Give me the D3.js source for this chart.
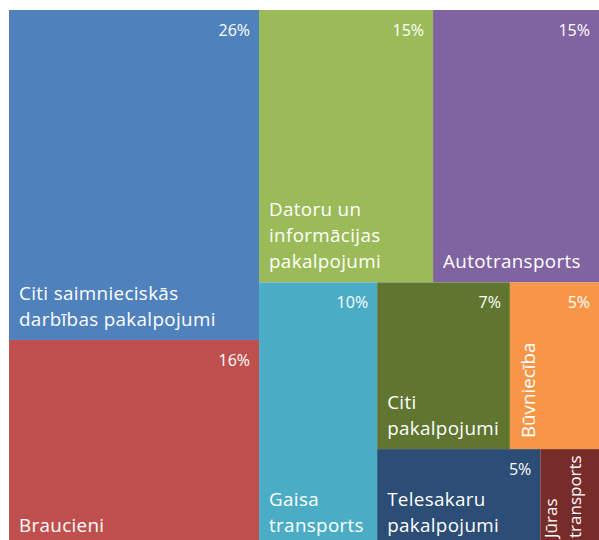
<!DOCTYPE html>
<html>
<head>
<meta charset="utf-8">
<script src="https://cdn.jsdelivr.net/npm/d3@7"></script>
<style>
  html, body { margin: 0; padding: 0; background: #ffffff; overflow: hidden; }
  svg { display: block; }
</style>
</head>
<body>
<svg id="chart" width="599" height="540"></svg>
<script>
// ---- Data ----
const categories = [
  "Citi saimnieciskās\ndarbības pakalpojumi",
  "Braucieni",
  "Datoru un\ninformācijas\npakalpojumi",
  "Autotransports",
  "Gaisa\ntransports",
  "Citi\npakalpojumi",
  "Būvniecība",
  "Telesakaru\npakalpojumi",
  "Jūras\ntransports"
];
// estimated shares (% of total), read from the rectangle areas
const values = [26.1, 16.3, 15.0, 14.3, 9.85, 7.0, 4.7, 5.0, 1.8];
// percentage labels printed on the chart
const percentLabels = ["26%", "16%", "15%", "15%", "10%", "7%", "5%", "5%", ""];
// grouping path for each category inside the nested treemap
const groupPaths = [
  ["A"], ["A"],
  ["B", "top"], ["B", "top"],
  ["B", "bottom"],
  ["B", "bottom", "C", "row1"], ["B", "bottom", "C", "row1"],
  ["B", "bottom", "C", "row2"], ["B", "bottom", "C", "row2"]
];
const colors = ["#4F81BD", "#C0504D", "#9BBB59", "#8064A2", "#4BACC6",
                "#5F7530", "#F79646", "#2C4D75", "#772C2A"];
const rotated = [false, false, false, false, false, false, true, false, true];

// ---- Build hierarchy ----
const rootData = { name: "root", children: [] };
categories.forEach((name, i) => {
  let node = rootData;
  groupPaths[i].forEach(g => {
    let child = node.children.find(c => c.name === g && c.children);
    if (!child) { child = { name: g, children: [] }; node.children.push(child); }
    node = child;
  });
  node.children.push({ name, value: values[i], idx: i });
});

const root = d3.hierarchy(rootData).sum(d => d.value || 0);

const x0 = 9, y0 = 10, x1 = 599, y1 = 546;
d3.treemap()
  .tile(d3.treemapSliceDice)
  .size([x1 - x0, y1 - y0])
  .paddingInner(0)
  .round(false)(root);

const svg = d3.select("#chart");
const g = svg.append("g").attr("transform", `translate(${x0},${y0})`);

const fontFamily = "'Open Sans', Lato, sans-serif";
const leaves = root.leaves();

const cell = g.selectAll("g.cell")
  .data(leaves)
  .join("g")
  .attr("class", "cell");

cell.append("rect")
  .attr("x", d => d.x0)
  .attr("y", d => d.y0)
  .attr("width", d => d.x1 - d.x0)
  .attr("height", d => d.y1 - d.y0)
  .attr("fill", d => colors[d.data.idx]);

// percentage labels (top-right)
cell.filter(d => percentLabels[d.data.idx] && (d.x1 - d.x0) > 40)
  .append("text")
  .attr("x", d => d.x1 - 9)
  .attr("y", d => d.y0 + 26)
  .attr("text-anchor", "end")
  .attr("fill", "#ffffff")
  .attr("font-family", fontFamily)
  .attr("font-size", 16)
  .text(d => percentLabels[d.data.idx]);

// category labels
const lineH = 26;
const labelSize = 18.8;
const spacing = 0.35;
const visibleBottom = 540 - y0; // bottom edge of the picture in group coords
cell.each(function(d) {
  const i = d.data.idx;
  const lines = categories[i].split("\n");
  const sel = d3.select(this);
  if (!rotated[i]) {
    const lastBaseline = d.y1 - 14;
    const t = sel.append("text")
      .attr("fill", "#ffffff")
      .attr("font-family", fontFamily)
      .attr("font-size", labelSize)
      .attr("letter-spacing", spacing);
    lines.forEach((ln, k) => {
      t.append("tspan")
        .attr("x", d.x0 + 10)
        .attr("y", lastBaseline - (lines.length - 1 - k) * lineH)
        .text(ln);
    });
  } else {
    const multi = lines.length > 1;
    const px = d.x0 + (multi ? 17 : 25);
    const py = multi ? visibleBottom - 2 : d.y1 - 11;
    const t = sel.append("text")
      .attr("fill", "#ffffff")
      .attr("font-family", fontFamily)
      .attr("font-size", multi ? 17 : labelSize)
      .attr("letter-spacing", 0)
      .attr("transform", `translate(${px},${py}) rotate(-90)`);
    lines.forEach((ln, k) => {
      t.append("tspan")
        .attr("x", 0)
        .attr("y", k * 24)
        .text(ln);
    });
  }
});
</script>
</body>
</html>
